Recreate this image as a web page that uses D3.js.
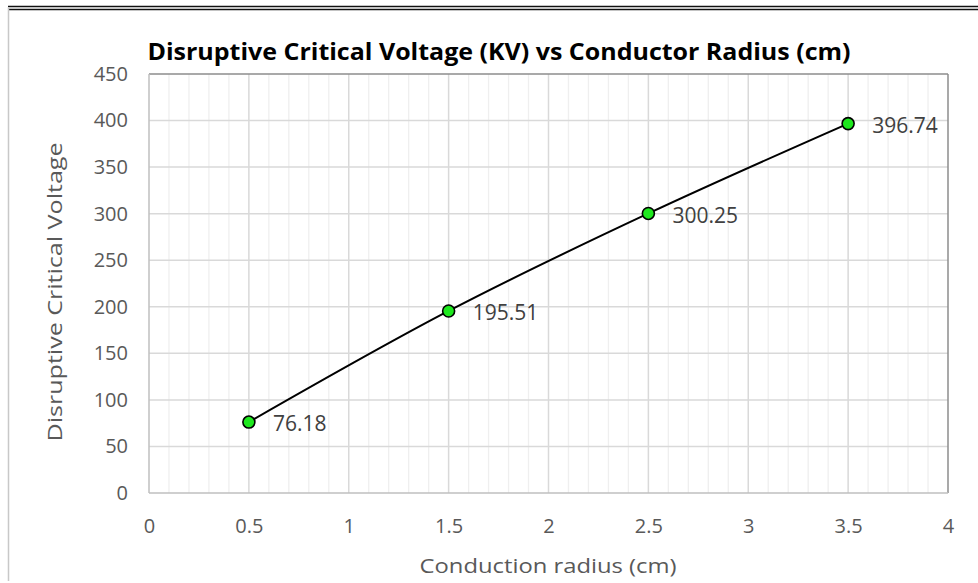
<!DOCTYPE html>
<html>
<head>
<meta charset="utf-8">
<script src="https://cdn.jsdelivr.net/npm/d3@7/dist/d3.min.js"></script>
<style>
  html, body { margin: 0; padding: 0; background: #fff; }
  svg { display: block; }
</style>
</head>
<body>
<svg id="chart" width="978" height="583"></svg>
<script>
// Conductor radius (cm) and the disruptive critical voltage (kV) at each radius
const radius = [0.5, 1.5, 2.5, 3.5];
const voltage = [76.18, 195.51, 300.25, 396.74];
const xTicks = [0, 0.5, 1, 1.5, 2, 2.5, 3, 3.5, 4];
const yTicks = [0, 50, 100, 150, 200, 250, 300, 350, 400, 450];

const titleText = "Disruptive Critical Voltage (KV) vs Conductor Radius (cm)";
const xTitleText = "Conduction radius (cm)";
const yTitleText = "Disruptive Critical Voltage";

const svg = d3.select("#chart");
const W = 978, H = 583;
const font = "'Open Sans', 'Liberation Sans', sans-serif";

// sheet borders around the chart object
svg.append("line").attr("x1", 8).attr("x2", W).attr("y1", 6.5).attr("y2", 6.5)
  .attr("stroke", "#111").attr("stroke-width", 1.5);
svg.append("line").attr("x1", 8).attr("x2", W).attr("y1", 9.5).attr("y2", 9.5)
  .attr("stroke", "#111").attr("stroke-width", 1.5);
svg.append("line").attr("x1", 8.5).attr("x2", 8.5).attr("y1", 7).attr("y2", 581)
  .attr("stroke", "#c8c8c8").attr("stroke-width", 1.5);

const plot = { left: 149, right: 948, top: 74, bottom: 493 };

const x = d3.scaleLinear().domain([0, 4]).range([plot.left, plot.right]);
const y = d3.scaleLinear().domain([0, 450]).range([plot.bottom, plot.top]);

// minor vertical gridlines every 0.1
const minor = d3.range(1, 40).map(i => i / 10).filter(v => Math.abs(v * 2 - Math.round(v * 2)) > 1e-6);
svg.append("g").selectAll("line").data(minor).join("line")
  .attr("x1", d => x(d)).attr("x2", d => x(d))
  .attr("y1", plot.top).attr("y2", plot.bottom)
  .attr("stroke", "#efefef").attr("stroke-width", 1.3);

// major gridlines
svg.append("g").selectAll("line").data(xTicks.slice(1, -1)).join("line")
  .attr("x1", d => x(d)).attr("x2", d => x(d))
  .attr("y1", plot.top).attr("y2", plot.bottom)
  .attr("stroke", "#d9d9d9").attr("stroke-width", 1.5);
svg.append("g").selectAll("line").data(yTicks.slice(1, -1)).join("line")
  .attr("x1", plot.left).attr("x2", plot.right)
  .attr("y1", d => y(d)).attr("y2", d => y(d))
  .attr("stroke", "#d9d9d9").attr("stroke-width", 1.5);

// plot area frame
svg.append("line").attr("x1", plot.left).attr("x2", plot.right)
  .attr("y1", plot.top).attr("y2", plot.top).attr("stroke", "#8c8c8c").attr("stroke-width", 1.5);
svg.append("line").attr("x1", plot.right).attr("x2", plot.right)
  .attr("y1", plot.top).attr("y2", plot.bottom).attr("stroke", "#8c8c8c").attr("stroke-width", 1.5);
svg.append("line").attr("x1", plot.left).attr("x2", plot.left)
  .attr("y1", plot.top).attr("y2", plot.bottom).attr("stroke", "#bfbfbf").attr("stroke-width", 1.5);
svg.append("line").attr("x1", plot.left).attr("x2", plot.right)
  .attr("y1", plot.bottom).attr("y2", plot.bottom).attr("stroke", "#bfbfbf").attr("stroke-width", 1.5);

// axes (labels only)
const xAxis = d3.axisBottom(x).tickValues(xTicks).tickSize(0).tickPadding(0).tickFormat(d3.format("~g"));
const gx = svg.append("g").attr("transform", `translate(0,${plot.bottom + 33})`).call(xAxis);
const yAxis = d3.axisLeft(y).tickValues(yTicks).tickSize(0).tickPadding(0).tickFormat(d3.format("~g"));
const gy = svg.append("g").attr("transform", `translate(${plot.left - 21},0)`).call(yAxis);
[gx, gy].forEach(g => {
  g.select(".domain").remove();
  g.selectAll("text").attr("fill", "#595959").style("font-family", font).style("font-size", "20px");
});
gx.selectAll("text").attr("dy", "0.35em").attr("y", 0);

// series line
const line = d3.line().x((d, i) => x(radius[i])).y(d => y(d)).curve(d3.curveMonotoneX);
svg.append("path").datum(voltage).attr("d", line)
  .attr("fill", "none").attr("stroke", "#000").attr("stroke-width", 2);

// markers
svg.append("g").selectAll("circle").data(voltage).join("circle")
  .attr("cx", (d, i) => x(radius[i])).attr("cy", d => y(d)).attr("r", 6)
  .attr("fill", "#1ee81e").attr("stroke", "#000").attr("stroke-width", 1.6);

// data labels
svg.append("g").selectAll("text").data(voltage).join("text")
  .attr("x", (d, i) => x(radius[i]) + 24).attr("y", d => y(d) + 2)
  .attr("dy", "0.35em")
  .attr("fill", "#404040").style("font-family", font).style("font-size", "21px")
  .text(d => d3.format(".2f")(d));

// chart title
svg.append("text").attr("x", 499).attr("y", 60).attr("text-anchor", "middle")
  .attr("textLength", 703).attr("lengthAdjust", "spacingAndGlyphs")
  .attr("fill", "#000").style("font-family", font).style("font-size", "24px").style("font-weight", "bold")
  .text(titleText);

// axis titles
svg.append("text").attr("x", 548).attr("y", 566).attr("dy", "0.35em").attr("text-anchor", "middle")
  .attr("textLength", 257).attr("lengthAdjust", "spacingAndGlyphs")
  .attr("fill", "#595959").style("font-family", font).style("font-size", "20px")
  .text(xTitleText);
svg.append("text").attr("transform", "translate(55,292) rotate(-90)")
  .attr("dy", "0.35em").attr("text-anchor", "middle")
  .attr("textLength", 299).attr("lengthAdjust", "spacingAndGlyphs")
  .attr("fill", "#595959").style("font-family", font).style("font-size", "20px")
  .text(yTitleText);
</script>
</body>
</html>
